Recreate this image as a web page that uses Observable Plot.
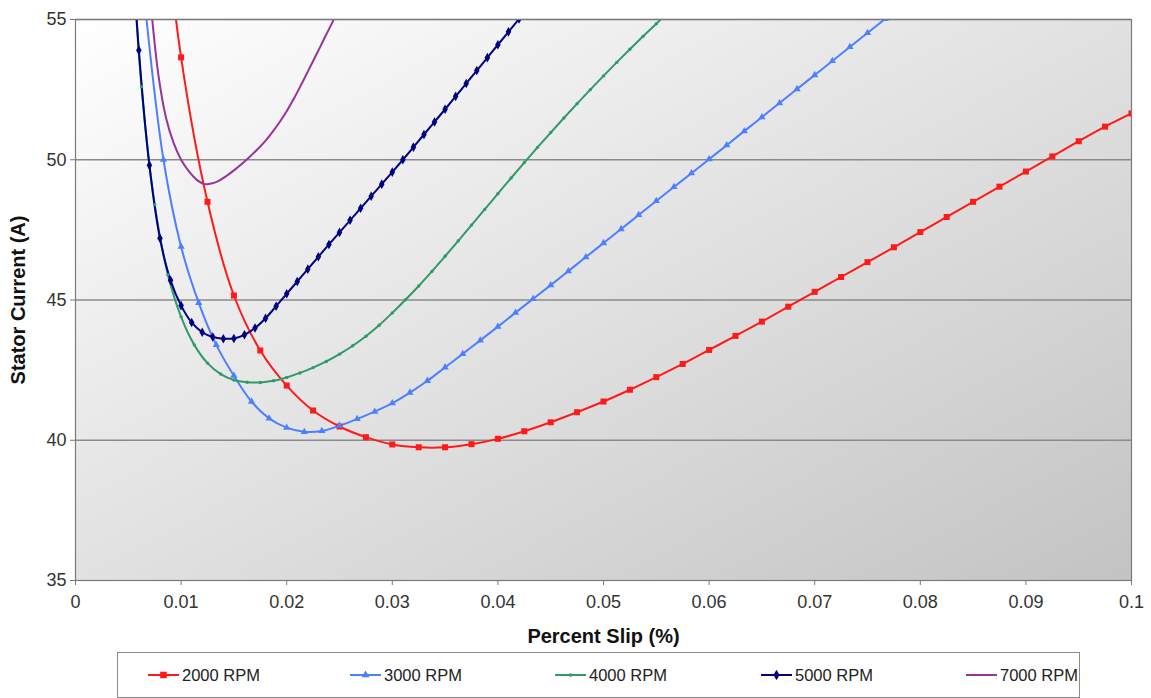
<!DOCTYPE html>
<html><head><meta charset="utf-8">
<script src="https://cdn.jsdelivr.net/npm/d3@7"></script>
<script src="https://cdn.jsdelivr.net/npm/@observablehq/plot@0.6"></script>
<style>
body{margin:0;background:#fff;font-family:"Liberation Sans",Arial,sans-serif;}
#wrap{position:relative;width:1151px;height:698px;overflow:hidden;}
#legend{position:absolute;left:117px;top:652px;width:963px;height:46px;border:1px solid #8a8a8a;box-sizing:border-box;background:#fff}
.item{position:absolute;top:0;height:44px;display:flex;align-items:center;font-size:16.5px;color:#222;white-space:nowrap}
.item svg{margin-right:3px}
g[aria-label="x-axis label"] text, g[aria-label="y-axis label"] text{font-weight:bold;font-size:20px;fill:#111}
</style></head><body><div id="wrap"><div id="chart"></div><div id="legend"></div></div>
<script>
const seriesNames = ["2000 RPM", "3000 RPM", "4000 RPM", "5000 RPM", "7000 RPM"];
const seriesColors = ["#ff1a1a", "#4d7fff", "#2f9a6a", "#000080", "#993399"];
const seriesSymbols = ["square", "triangle", "circle", "diamond", null];
const seriesMarkerR = [3.4, 2.7, 1.7, 2.9, 0];

const slip2000 = [0.0075,0.01,0.0125,0.015,0.0175,0.02,0.0225,0.025,0.0275,0.03,0.0325,0.035,0.0375,0.04,0.0425,0.045,0.0475,0.05,0.0525,0.055,0.0575,0.06,0.0625,0.065,0.0675,0.07,0.0725,0.075,0.0775,0.08,0.0825,0.085,0.0875,0.09,0.0925,0.095,0.0975,0.1];
const amps2000 = [62,53.65,48.5,45.16,43.2,41.95,41.06,40.49,40.11,39.85,39.75,39.75,39.86,40.05,40.32,40.64,41.0,41.38,41.8,42.25,42.72,43.22,43.72,44.23,44.76,45.29,45.82,46.35,46.88,47.42,47.96,48.5,49.04,49.58,50.12,50.66,51.18,51.65];

const slip3000 = [0.00667,0.00833,0.01,0.01167,0.01333,0.015,0.01667,0.01833,0.02,0.02167,0.02333,0.025,0.02667,0.02833,0.03,0.03167,0.03333,0.035,0.03667,0.03833,0.04,0.04167,0.04333,0.045,0.04667,0.04833,0.05,0.05167,0.05333,0.055,0.05667,0.05833,0.06,0.06167,0.06333,0.065,0.06667,0.06833,0.07,0.07167,0.07333,0.075,0.07667];
const amps3000 = [55.2,50.0,46.9,44.9,43.4,42.3,41.38,40.78,40.45,40.3,40.33,40.52,40.76,41.02,41.32,41.7,42.12,42.6,43.08,43.56,44.05,44.55,45.04,45.53,46.03,46.53,47.03,47.53,48.03,48.53,49.03,49.52,50.02,50.52,51.02,51.52,52.02,52.52,53.02,53.52,54.02,54.52,55.02];

const slip4000 = [0.005,0.00625,0.0075,0.00875,0.01,0.01125,0.0125,0.01375,0.015,0.01625,0.0175,0.01875,0.02,0.02125,0.0225,0.02375,0.025,0.02625,0.0275,0.02875,0.03,0.03125,0.0325,0.03375,0.035,0.03625,0.0375,0.03875,0.04,0.04125,0.0425,0.04375,0.045,0.04625,0.0475,0.04875,0.05,0.05125,0.0525,0.05375,0.055,0.05625];
const amps4000 = [60,52.6,48.4,45.9,44.4,43.4,42.75,42.36,42.15,42.07,42.06,42.12,42.24,42.4,42.59,42.81,43.07,43.37,43.71,44.1,44.54,45.01,45.5,46.02,46.56,47.11,47.67,48.23,48.79,49.35,49.9,50.44,50.97,51.49,52.0,52.5,52.99,53.47,53.94,54.4,54.85,55.3];

const slip5000 = [0.005,0.006,0.007,0.008,0.009,0.01,0.011,0.012,0.013,0.014,0.015,0.016,0.017,0.018,0.019,0.02,0.021,0.022,0.023,0.024,0.025,0.026,0.027,0.028,0.029,0.03,0.031,0.032,0.033,0.034,0.035,0.036,0.037,0.038,0.039,0.04,0.041,0.042];
const amps5000 = [60,53.9,49.8,47.2,45.7,44.8,44.2,43.85,43.68,43.62,43.63,43.76,44.0,44.35,44.78,45.22,45.66,46.1,46.54,46.98,47.41,47.84,48.27,48.7,49.13,49.56,50.0,50.45,50.9,51.35,51.8,52.26,52.72,53.18,53.64,54.1,54.56,55.02];

const slip7000 = [0.00714,0.00786,0.00857,0.00929,0.01,0.01071,0.01143,0.01214,0.01286,0.01357,0.01429,0.015,0.01571,0.01643,0.01714,0.01786,0.01857,0.01929,0.02,0.02071,0.02143,0.02214,0.02286,0.02357,0.02429,0.025];
const amps7000 = [55.5,53.0,51.5,50.6,50.0,49.6,49.3,49.14,49.15,49.25,49.42,49.62,49.84,50.08,50.34,50.62,50.95,51.32,51.73,52.2,52.72,53.25,53.79,54.33,54.87,55.41];

const xTicks = [0,0.01,0.02,0.03,0.04,0.05,0.06,0.07,0.08,0.09,0.1];
const yTicks = [35,40,45,50,55];
const gridTicks = [40,45,50,55];

const slips = [slip2000, slip3000, slip4000, slip5000, slip7000];
const amps = [amps2000, amps3000, amps4000, amps5000, amps7000];
const rows = [];
seriesNames.forEach((name, i) => {
  slips[i].forEach((s, j) => rows.push({series: name, slip: s, amps: amps[i][j]}));
});

const dotMarks = seriesNames.map((name, i) => seriesSymbols[i] ? Plot.dot(rows.filter(d => d.series === name), {
  x: "slip", y: "amps", symbol: seriesSymbols[i], r: seriesMarkerR[i], fill: seriesColors[i], stroke: "none", clip: true
}) : null).filter(Boolean);

const chart = Plot.plot({
  width: 1151, height: 645,
  marginLeft: 75, marginRight: 20, marginTop: 19, marginBottom: 65,
  style: {fontFamily: "'Liberation Sans', Arial, sans-serif", fontSize: "18px", color: "#333", background: "transparent", overflow: "visible"},
  x: {domain: [0, 0.1]},
  y: {domain: [35, 55]},
  color: {domain: seriesNames, range: seriesColors},
  marks: [
    Plot.frame({fill: "url(#plotBg)", stroke: null}),
    Plot.gridY(gridTicks, {stroke: "#8a8a8a", strokeOpacity: 1, strokeWidth: 1.5}),
    Plot.line(rows, {x: "slip", y: "amps", z: "series", stroke: "series", strokeWidth: 2, curve: "catmull-rom", clip: true}),
    ...dotMarks,
    Plot.frame({stroke: "#7a7a7a", strokeWidth: 1.2}),
    Plot.axisX({ticks: xTicks, tickFormat: d => String(+d.toFixed(2)), tickSize: 5, tickPadding: 10, stroke: "#777",
      label: "Percent Slip (%)", labelAnchor: "center", labelArrow: false, labelOffset: 62}),
    Plot.axisY({ticks: yTicks, tickSize: 5, tickPadding: 4, stroke: "#777",
      label: "Stator Current (A)", labelAnchor: "center", labelArrow: false, labelOffset: 65})
  ]
});

const svgNS = "http://www.w3.org/2000/svg";
const defs = document.createElementNS(svgNS, "defs");
defs.innerHTML = '<linearGradient id="plotBg" x1="0" y1="0" x2="1" y2="1"><stop offset="0" stop-color="#ffffff"/><stop offset="1" stop-color="#c3c3c3"/></linearGradient>';
chart.insertBefore(defs, chart.firstChild);
document.getElementById("chart").appendChild(chart);

// legend
const legendOffsets = [30, 232, 437, 643, 848];
const symbolTypes = {square: d3.symbolSquare, triangle: d3.symbolTriangle, circle: d3.symbolCircle, diamond: d3.symbolDiamond};
const legend = document.getElementById("legend");
seriesNames.forEach((name, i) => {
  const item = document.createElement("div");
  item.className = "item";
  item.style.left = legendOffsets[i] + "px";
  const s = d3.create("svg").attr("width", 31).attr("height", 12);
  s.append("line").attr("x1", 0).attr("x2", 31).attr("y1", 6).attr("y2", 6).attr("stroke", seriesColors[i]).attr("stroke-width", 2);
  if (seriesSymbols[i]) {
    s.append("path").attr("transform", "translate(15.5,6)")
      .attr("d", d3.symbol().type(symbolTypes[seriesSymbols[i]]).size(Math.PI * seriesMarkerR[i] * seriesMarkerR[i] * 1.2)())
      .attr("fill", seriesColors[i]);
  }
  item.appendChild(s.node());
  const t = document.createElement("span");
  t.textContent = name;
  item.appendChild(t);
  legend.appendChild(item);
});
</script></body></html>
